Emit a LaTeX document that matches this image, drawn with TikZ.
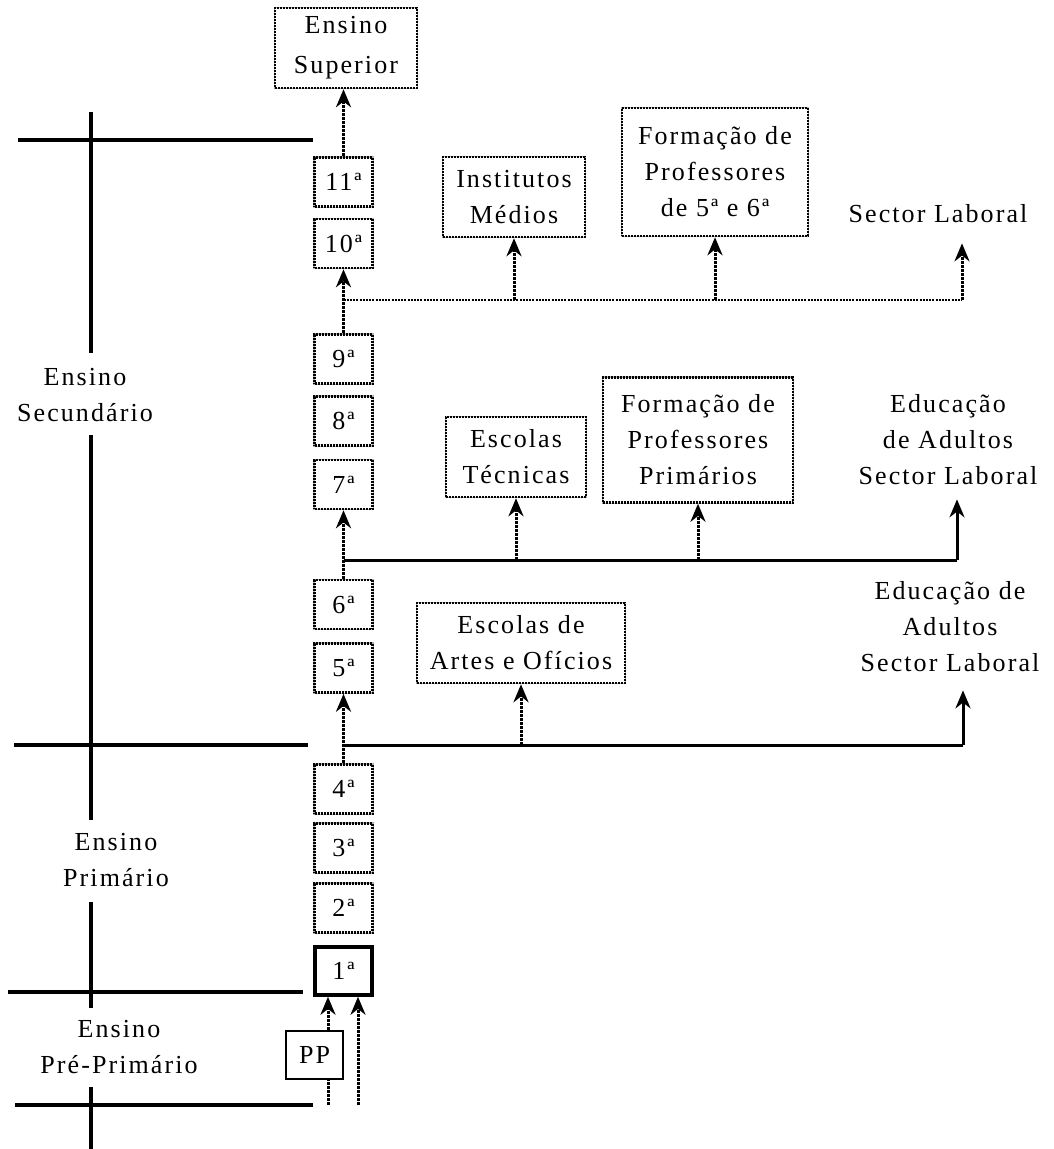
\documentclass[tikz,border=0pt]{standalone}
\usepackage{fontspec}
\setmainfont{Liberation Serif}[LetterSpace=8]
\usetikzlibrary{arrows.meta}
\begin{document}
\begin{tikzpicture}[x=1pt,y=-1pt,
  every node/.style={font=\fontsize{26}{36}\selectfont, inner sep=0pt},
  bx/.style={draw=black, dash pattern=on 2pt off 1pt, line width=2.5pt, fill=white, align=center,
    preaction={draw=gray!60, solid, line width=2.5pt}},
  gbox/.style={bx, minimum width=58pt, minimum height=49pt},
  sbox/.style={draw=black, line width=2.5pt, fill=white, minimum width=57pt, minimum height=48pt},
  lbl/.style={align=center},
  tip/.style={-{Stealth[length=18pt,width=15pt]}},
  darr/.style={tip, line width=3pt, dash pattern=on 3pt off 1pt},
  dline/.style={line width=3pt, dash pattern=on 3pt off 1pt},
  sarr/.style={tip, line width=3pt},
  hdot/.style={line width=2.5pt, dash pattern=on 2pt off 1.2pt},
  hsol/.style={line width=3pt},
  axis/.style={line width=3.5pt},
]
\useasboundingbox (0,0) rectangle (1053,1149);

% left labels
\node[lbl] (lsec) at (85,395) {Ensino\\Secundário};
\node[lbl] (lpri) at (116,860) {Ensino\\Primário};
\node[lbl] (lpre) at (119,1047) {Ensino\\Pré-Primário};

% axis lines
\draw[axis] (18,140) -- (313,140);
\draw[axis] (14,745) -- (308,745);
\draw[axis] (8,992) -- (303,992);
\draw[axis] (15,1105) -- (313,1105);
\draw[axis] (91,112) -- (91,353);
\draw[axis] (91,435) -- (91,820);
\draw[axis] (91,902) -- (91,1008);
\draw[axis] (91,1087) -- (91,1149);

% top box
\node[bx, minimum width=142pt, minimum height=80pt, font=\fontsize{26}{40}\selectfont] (sup) at (346,48) {Ensino\\Superior};

% grade boxes
\node[gbox] (g11) at (343.5,182) {11ª};
\node[gbox] (g10) at (343.5,243.5) {10ª};
\node[gbox] (g9) at (343.5,359) {9ª};
\node[gbox] (g8) at (343.5,421) {8ª};
\node[gbox] (g7) at (343.5,484.5) {7ª};
\node[gbox] (g6) at (343.5,604.5) {6ª};
\node[gbox] (g5) at (343.5,668) {5ª};
\node[gbox] (g4) at (343.5,789) {4ª};
\node[gbox] (g3) at (343.5,848) {3ª};
\node[gbox] (g2) at (343.5,908) {2ª};
\node[sbox, line width=3.5pt] (g1) at (343.5,971) {1ª};
\node[sbox] (pp) at (314.5,1055) {PP};

% destination boxes
\node[bx, minimum width=142pt, minimum height=80pt] (inst) at (514,197) {Institutos\\Médios};
\node[bx, minimum width=186pt, minimum height=128pt] (f56) at (715,172) {Formação de\\Professores\\de 5ª e 6ª};
\node[lbl] (sl1) at (938,214) {Sector Laboral};
\node[bx, minimum width=140pt, minimum height=80pt] (tec) at (516,457) {Escolas\\Técnicas};
\node[bx, minimum width=190pt, minimum height=125pt] (prim) at (698,440) {Formação de\\Professores\\Primários};
\node[lbl] (ed1) at (948,440) {Educação\\de Adultos\\Sector Laboral};
\node[bx, minimum width=208pt, minimum height=80pt] (artes) at (521,643) {Escolas de\\Artes e Ofícios};
\node[lbl] (ed2) at (950,627) {Educação de\\Adultos\\Sector Laboral};

% spine arrows
\draw[darr] (g11.north) -- (g11.north |- sup.south);
\draw[darr] (g9.north) -- (g10.south);
\draw[darr] (g6.north) -- (g7.south);
\draw[darr] (g4.north) -- (g5.south);

% branch 1
\coordinate (j1) at (343.5,300);
\coordinate (j1e) at (962,300);
\draw[hdot] (j1) -- (j1e);
\draw[darr] (inst.south |- j1) -- (inst.south);
\draw[darr] (f56.south |- j1) -- (f56.south);
\draw[darr, shorten >=20pt] (j1e) -- (j1e |- sl1.south);

% branch 2
\coordinate (j2) at (343.5,560);
\coordinate (j2e) at (957,560);
\draw[hsol] (j2) -- (j2e);
\draw[darr] (tec.south |- j2) -- (tec.south);
\draw[darr] (prim.south |- j2) -- (prim.south);
\draw[sarr, shorten >=14pt] (j2e) -- (j2e |- ed1.south);

% branch 3
\coordinate (j3) at (343.5,745);
\coordinate (j3e) at (963,745);
\draw[hsol] (j3) -- (j3e);
\draw[darr] (artes.south |- j3) -- (artes.south);
\draw[sarr, shorten >=18pt] (j3e) -- (j3e |- ed2.south);

% bottom arrows
\coordinate (b1) at (328,1105);
\coordinate (b2) at (358,1105);
\draw[dline] (b1) -- (b1 |- pp.south);
\draw[darr] (b1 |- pp.north) -- (b1 |- g1.south);
\draw[darr] (b2) -- (b2 |- g1.south);
\end{tikzpicture}
\end{document}
